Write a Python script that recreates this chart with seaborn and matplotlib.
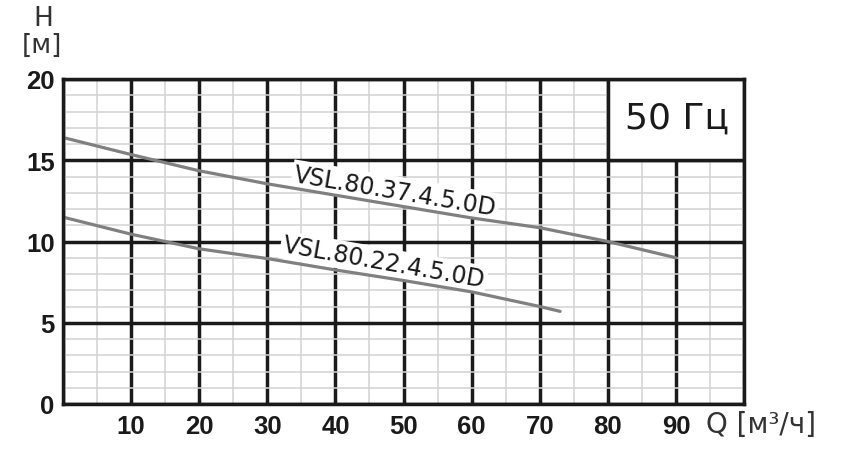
import matplotlib
matplotlib.use("Agg")
import matplotlib.pyplot as plt
from matplotlib.patches import Rectangle
import seaborn as sns
import pandas as pd
import numpy as np

# data
q_37 = [0, 10, 20, 30, 40, 50, 60, 70, 80, 90]
h_37 = [16.4, 15.35, 14.35, 13.55, 12.85, 12.15, 11.45, 10.85, 10.0, 9.0]
q_22 = [0, 10, 20, 30, 40, 50, 60, 70, 73]
h_22 = [11.5, 10.45, 9.55, 8.95, 8.25, 7.6, 6.9, 6.0, 5.7]
name_37 = "VSL.80.37.4.5.0D"
name_22 = "VSL.80.22.4.5.0D"
x_ticks = [10, 20, 30, 40, 50, 60, 70, 80, 90]
y_ticks = [0, 5, 10, 15, 20]

df = pd.concat([
    pd.DataFrame({"Q": q_37, "H": h_37, "pump": name_37}),
    pd.DataFrame({"Q": q_22, "H": h_22, "pump": name_22}),
])

sns.set_style("white")
fig = plt.figure(figsize=(8.44, 4.64), dpi=100)
ax = fig.add_axes([63/844, 1-405/464, (744-63)/844, (405-80)/464])

sns.lineplot(data=df, x="Q", y="H", hue="pump", palette=["#808080", "#808080"],
             linewidth=2.3, ax=ax, legend=False, zorder=4, sort=False, estimator=None)

ax.set_xlim(0, 100)
ax.set_ylim(0, 20)
ax.set_xticks(np.arange(0, 101, 10))
ax.set_yticks(y_ticks)
ax.set_xticks(np.arange(0, 101, 5), minor=True)
ax.set_yticks(np.arange(0, 21, 1), minor=True)
ax.set_xticklabels(["" if t not in x_ticks else str(t) for t in range(0, 101, 10)])
ax.set_yticklabels([str(t) for t in y_ticks])
ax.set_axisbelow(True)
ax.grid(which="minor", color="#d2d2d2", linewidth=1.1, zorder=0.5)
ax.grid(which="major", color="#1a1a1a", linewidth=2.5, zorder=0.6)
ax.tick_params(which="both", length=0, labelsize=18.5, colors="#1a1a1a")
ax.tick_params(axis="y", pad=6)
ax.tick_params(axis="x", pad=7)
for lab in ax.get_xticklabels() + ax.get_yticklabels():
    lab.set_fontfamily("Liberation Sans")
    lab.set_fontweight("bold")
ax.set_xlabel("")
ax.set_ylabel("")
for s in ax.spines.values():
    s.set_color("#1a1a1a")
    s.set_linewidth(2.5)
    s.set_zorder(5)

# 50 Hz box
ax.add_patch(Rectangle((80, 15), 20, 5, facecolor="white", edgecolor="#1a1a1a",
                       linewidth=2.5, zorder=1))
ax.text(90.1, 17.6, "50 Гц", fontsize=26, family="DejaVu Sans", color="#1a1a1a",
        ha="center", va="center", zorder=2)

# curve labels
bbox = dict(facecolor="white", edgecolor="none", pad=1.5)
ax.text(33.8, 13.75, name_37, fontsize=17, family="DejaVu Sans", rotation=-9.5,
        rotation_mode="anchor", ha="left", va="baseline", color="#1a1a1a",
        bbox=bbox, zorder=3)
ax.text(32.1, 9.4, name_22, fontsize=17, family="DejaVu Sans", rotation=-10,
        rotation_mode="anchor", ha="left", va="baseline", color="#1a1a1a",
        bbox=bbox, zorder=3)

# axis titles
fig.text(43/844, 1-19/464, "H", fontsize=19, family="DejaVu Sans", color="#333333",
         ha="center", va="center")
fig.text(42/844, 1-46/464, "[м]", fontsize=19, family="DejaVu Sans", color="#333333",
         ha="center", va="center")
fig.text(706/844, 1-425/464, "Q [м³/ч]", fontsize=20, family="DejaVu Sans",
         color="#333333", ha="left", va="center")

fig.savefig("out.png", dpi=100, facecolor="white")
